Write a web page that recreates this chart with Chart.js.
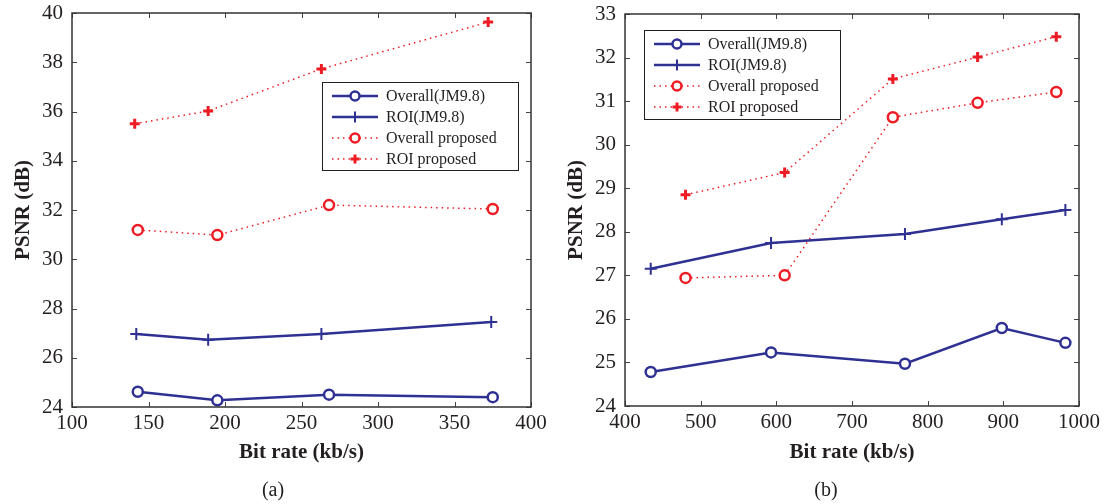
<!DOCTYPE html>
<html>
<head>
<meta charset="utf-8">
<script src="https://cdn.jsdelivr.net/npm/chart.js@4/dist/chart.umd.min.js"></script>
<style>
  body { margin: 0; background: #fff; }
  canvas { position: absolute; top: 0; }
  #ca { left: 0; }
  #cb { left: 553px; }
  .cap { position: absolute; top: 478px; font: 20px "Liberation Serif", serif; color: #231f20; transform: translateX(-50%); }
</style>
</head>
<body>
<canvas id="ca" width="553" height="504"></canvas>
<canvas id="cb" width="553" height="504"></canvas>
<div class="cap" style="left:273px">(a)</div>
<div class="cap" style="left:826px">(b)</div>
<script>
// (a) bit rates and PSNR values
const rateA_overall = [143, 195, 268, 375];
const rateA_roi = [142, 189, 263, 374];
const rateA_roiProp = [141, 189, 263, 372];
const psnrA_overallJM = [24.62, 24.27, 24.5, 24.4];
const psnrA_roiJM = [26.96, 26.73, 26.96, 27.45];
const psnrA_overallProp = [31.19, 30.98, 32.2, 32.04];
const psnrA_roiProp = [35.5, 36.02, 37.73, 39.63];

// (b)
const rateB_jm = [434, 593, 770, 898, 982];
const rateB_prop = [480, 611, 754, 866, 970];
const psnrB_overallJM = [24.78, 25.23, 24.97, 25.79, 25.45];
const psnrB_roiJM = [27.15, 27.74, 27.95, 28.29, 28.5];
const psnrB_overallProp = [26.94, 27.0, 30.63, 30.96, 31.21];
const psnrB_roiProp = [28.85, 29.36, 31.51, 32.01, 32.48];

const seriesNames = ['Overall(JM9.8)', 'ROI(JM9.8)', 'Overall proposed', 'ROI proposed'];

const BLUE = '#2e3192';
const RED = '#ed1c24';
const INK = '#231f20';
const SERIF = '"Liberation Serif", "Times New Roman", serif';

const pts = (xs, ys) => xs.map((x, i) => ({ x, y: ys[i] }));

function makeSets(xsList, ysList) {
  const styles = [
    { borderColor: BLUE, borderWidth: 2.5, pointStyle: 'circle', pointRadius: 5, pointBorderWidth: 2.5 },
    { borderColor: BLUE, borderWidth: 2.5, pointStyle: 'cross', pointRadius: 6, pointBorderWidth: 2 },
    { borderColor: RED, borderWidth: 1.5, borderDash: [1.5, 4], pointStyle: 'circle', pointRadius: 5, pointBorderWidth: 2.5 },
    { borderColor: RED, borderWidth: 1.5, borderDash: [1.5, 4], pointStyle: 'cross', pointRadius: 5, pointBorderWidth: 3 },
  ];
  return styles.map((s, i) => Object.assign({
    label: seriesNames[i],
    data: pts(xsList[i], ysList[i]),
    pointBorderColor: s.borderColor,
    pointBackgroundColor: '#fff',
    fill: false,
    tension: 0,
  }, s));
}

// frame with inward ticks on all four sides, plus legend box
const framePlugin = {
  id: 'frame',
  afterDraw(chart, args, opts) {
    const { ctx, chartArea: a, scales } = chart;
    ctx.save();
    ctx.strokeStyle = '#444';
    ctx.lineWidth = 1;
    ctx.setLineDash([]);
    const L = 5;
    scales.x.ticks.forEach(t => {
      const px = Math.round(scales.x.getPixelForValue(t.value)) + 0.5;
      ctx.beginPath();
      ctx.moveTo(px, a.bottom); ctx.lineTo(px, a.bottom - L);
      ctx.moveTo(px, a.top); ctx.lineTo(px, a.top + L);
      ctx.stroke();
    });
    scales.y.ticks.forEach(t => {
      const py = Math.round(scales.y.getPixelForValue(t.value)) + 0.5;
      ctx.beginPath();
      ctx.moveTo(a.left, py); ctx.lineTo(a.left + L, py);
      ctx.moveTo(a.right, py); ctx.lineTo(a.right - L, py);
      ctx.stroke();
    });
    ctx.lineWidth = 1.5;
    ctx.strokeStyle = '#333';
    ctx.strokeRect(a.left, a.top, a.right - a.left, a.bottom - a.top);

    // legend
    const b = opts.box;
    ctx.fillStyle = '#fff';
    ctx.fillRect(b.x, b.y, b.w, b.h);
    ctx.lineWidth = 1;
    ctx.strokeStyle = INK;
    ctx.strokeRect(b.x + 0.5, b.y + 0.5, b.w, b.h);
    ctx.font = '16px ' + SERIF;
    ctx.textBaseline = 'middle';
    chart.data.datasets.forEach((ds, i) => {
      const y = b.y + 14 + i * 21;
      ctx.strokeStyle = ds.borderColor;
      ctx.lineWidth = ds.borderWidth;
      ctx.setLineDash(ds.borderDash || []);
      ctx.beginPath();
      ctx.moveTo(b.x + 10, y); ctx.lineTo(b.x + 56, y);
      ctx.stroke();
      ctx.setLineDash([]);
      ctx.fillStyle = '#fff';
      ctx.strokeStyle = ds.pointBorderColor;
      ctx.lineWidth = ds.pointBorderWidth;
      Chart.helpers.drawPoint(ctx, { pointStyle: ds.pointStyle, radius: ds.pointRadius - 0.5, borderWidth: ds.pointBorderWidth, rotation: 0 }, b.x + 33, y);
      ctx.fillStyle = INK;
      ctx.fillText(ds.label, b.x + 64, y + 1);
    });
    ctx.restore();
  }
};

function makeChart(id, sets, xr, yr, pad, box) {
  return new Chart(document.getElementById(id), {
    type: 'line',
    data: { datasets: sets },
    plugins: [framePlugin],
    options: {
      responsive: false,
      animation: false,
      devicePixelRatio: 1,
      layout: { padding: { left: 0, top: pad.top, right: pad.right, bottom: 0 } },
      plugins: { legend: { display: false }, tooltip: { enabled: false }, frame: { box } },
      scales: {
        x: {
          type: 'linear', min: xr[0], max: xr[1],
          ticks: { stepSize: xr[2], color: INK, font: { family: SERIF, size: 21 }, padding: 4, maxRotation: 0, callback: v => String(v) },
          grid: { display: false, drawTicks: false },
          border: { display: false },
          title: { display: true, text: 'Bit rate (kb/s)', color: INK, font: { family: SERIF, size: 21, weight: 'bold' }, padding: { top: 0, bottom: 39 } },
          afterFit(s) { s.height = pad.bottomH; s.paddingLeft = 0; s.paddingRight = 0; }
        },
        y: {
          min: yr[0], max: yr[1],
          ticks: { stepSize: yr[2], color: INK, font: { family: SERIF, size: 21 }, padding: 9, callback: v => String(v) },
          grid: { display: false, drawTicks: false },
          border: { display: false },
          title: { display: true, text: 'PSNR (dB)', color: INK, font: { family: SERIF, size: 21, weight: 'bold' }, padding: { top: 11, bottom: 0 } },
          afterFit(s) { s.width = 72; s.paddingTop = 0; s.paddingBottom = 0; }
        }
      }
    }
  });
}

makeChart('ca',
  makeSets([rateA_overall, rateA_roi, rateA_overall, rateA_roiProp],
           [psnrA_overallJM, psnrA_roiJM, psnrA_overallProp, psnrA_roiProp]),
  [100, 400, 50], [24, 40, 2],
  { top: 13, right: 22, bottomH: 97 },
  { x: 322, y: 82, w: 196, h: 88 });

makeChart('cb',
  makeSets([rateB_jm, rateB_jm, rateB_prop, rateB_prop],
           [psnrB_overallJM, psnrB_roiJM, psnrB_overallProp, psnrB_roiProp]),
  [400, 1000, 100], [24, 33, 1],
  { top: 14, right: 27, bottomH: 98 },
  { x: 91, y: 30, w: 196, h: 89 });
</script>
</body>
</html>
